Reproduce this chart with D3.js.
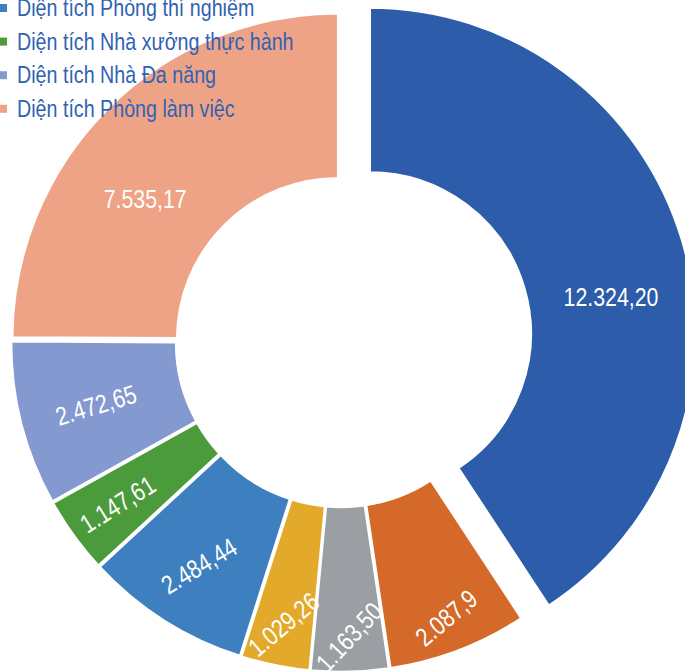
<!DOCTYPE html>
<html>
<head>
<meta charset="utf-8">
<script src="https://cdn.jsdelivr.net/npm/d3@7"></script>
<style>
  html, body { margin: 0; padding: 0; background: #ffffff; }
  svg { display: block; }
  .narrow { font-family: "Liberation Sans", Arial, sans-serif; }
</style>
</head>
<body>
<svg id="chart" width="685" height="671"></svg>
<script>
// Floor area by room type (m²), clockwise from 12 o'clock
const values = [12324.20, 2087.9, 1163.50, 1029.26, 2484.44, 1147.61, 2472.65, 7535.17];
const valueLabels = ["12.324,20", "2.087,9", "1.163,50", "1.029,26", "2.484,44", "1.147,61", "2.472,65", "7.535,17"];
const sliceColors = ["#2c5caa", "#d4692a", "#9b9ea3", "#e2a92a", "#3e80bf", "#4b9a3b", "#8499d0", "#efa386"];
// Legend rows (the last four categories)
const legendLabels = ["Diện tích Phòng thí nghiệm", "Diện tích Nhà xưởng thực hành", "Diện tích Nhà Đa năng", "Diện tích Phòng làm việc"];
const legendColors = ["#3e80bf", "#4b9a3b", "#8499d0", "#efa386"];

// Layout / styling
const W = 685, H = 671;
const cx = 341, cy = 342;
const rOuter = 326, rInner = 161;
const explode = [30, 4, 4, 4, 4, 4, 4, 4];
const narrowX = 0.82; // horizontal squeeze for a condensed face
// label placement, relative to each slice's own origin:
// radius, angle tweak (deg), text rotation (deg)
const labelRadius = [244, 291, 291, 284, 261, 272, 249, 239];
const labelAngleShift = [8, 0, 0, 0, 0, 0, 0, -9];
const labelRotate = [0, -40, -47, -40, -31, -32, -17, 0];

const svg = d3.select("#chart");
const g = svg.append("g").attr("transform", `translate(${cx},${cy})`);

const pie = d3.pie().sort(null).value(d => d).startAngle(0).endAngle(2 * Math.PI);
const arcs = pie(values);
const arc = d3.arc().innerRadius(rInner).outerRadius(rOuter);
const offset = (d, dist) => {
  const a = (d.startAngle + d.endAngle) / 2;
  return [dist * Math.sin(a), -dist * Math.cos(a)];
};

const slices = g.selectAll("g.slice")
  .data(arcs)
  .join("g")
  .attr("class", "slice")
  .attr("transform", (d, i) => {
    const [dx, dy] = offset(d, explode[i]);
    return `translate(${dx},${dy})`;
  });

slices.append("path")
  .attr("d", arc)
  .attr("fill", (d, i) => sliceColors[i])
  .attr("stroke", "#ffffff")
  .attr("stroke-width", 2.5)
  .attr("stroke-linejoin", "miter");

slices.append("text")
  .attr("class", "narrow")
  .attr("transform", (d, i) => {
    const a = (d.startAngle + d.endAngle) / 2 + labelAngleShift[i] * Math.PI / 180;
    const r = labelRadius[i];
    const [x, y] = d3.arc().innerRadius(r).outerRadius(r).centroid({ startAngle: a, endAngle: a });
    return `translate(${x},${y}) rotate(${labelRotate[i]}) scale(${narrowX},1)`;
  })
  .attr("text-anchor", "middle")
  .attr("dy", "0.36em")
  .attr("fill", "#ffffff")
  .attr("font-size", 26)
  .text((d, i) => valueLabels[i]);

// Legend
const legend = svg.append("g").attr("class", "legend");
const rowH = 33.6;
const rows = legend.selectAll("g")
  .data(legendLabels)
  .join("g")
  .attr("transform", (d, i) => `translate(0,${16 + i * rowH})`);

rows.append("rect")
  .attr("x", -1).attr("y", -12)
  .attr("width", 8).attr("height", 8)
  .attr("fill", (d, i) => legendColors[i]);

rows.append("text")
  .attr("class", "narrow")
  .attr("transform", `translate(17,0) scale(${narrowX},1)`)
  .attr("fill", "#2f62b3")
  .attr("font-size", 24)
  .text(d => d);
</script>
</body>
</html>
